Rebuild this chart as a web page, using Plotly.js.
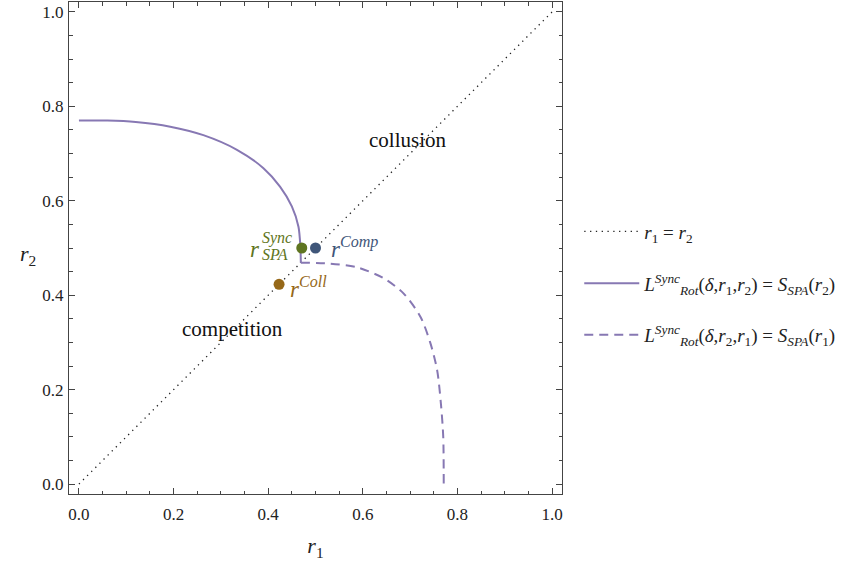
<!DOCTYPE html>
<html>
<head>
<meta charset="utf-8">
<script src="https://cdn.plot.ly/plotly-3.0.1.min.js"></script>
<style>html,body{margin:0;padding:0;background:#fff;}</style>
</head>
<body>
<div id="chart" style="width:848px;height:570px;"></div>
<script>
// ---- data ----
const diagR1 = [0, 1];
const diagR2 = [0, 1];

const solidR1 = [0, 0.06, 0.12, 0.193, 0.263, 0.334, 0.390, 0.425, 0.450, 0.464, 0.468, 0.469];
const solidR2 = [0.770, 0.770, 0.767, 0.757, 0.739, 0.708, 0.669, 0.630, 0.588, 0.545, 0.503, 0.469];

const dashedR1 = [0.469, 0.531, 0.588, 0.644, 0.686, 0.722, 0.743, 0.757, 0.765, 0.770, 0.771];
const dashedR2 = [0.469, 0.467, 0.459, 0.436, 0.404, 0.354, 0.298, 0.242, 0.171, 0.100, 0.0];

const pointNames = ["Sync SPA", "Comp", "Coll"];
const pointR1 = [0.471, 0.500, 0.423];
const pointR2 = [0.500, 0.500, 0.423];

const tickVals = [0, 0.2, 0.4, 0.6, 0.8, 1.0];
const tickLabels = ["0.0", "0.2", "0.4", "0.6", "0.8", "1.0"];

const legendNames = [
  "<i>r</i><sub>1</sub> = <i>r</i><sub>2</sub>",
  "<i>L</i><sup><i>Sync</i></sup><sub><i>Rot</i></sub>(<i>δ</i>,<i>r</i><sub>1</sub>,<i>r</i><sub>2</sub>) = <i>S</i><sub><i>SPA</i></sub>(<i>r</i><sub>2</sub>)",
  "<i>L</i><sup><i>Sync</i></sup><sub><i>Rot</i></sub>(<i>δ</i>,<i>r</i><sub>2</sub>,<i>r</i><sub>1</sub>) = <i>S</i><sub><i>SPA</i></sub>(<i>r</i><sub>1</sub>)"
];

// ---- styles ----
const purple = "#8778B3";
const blueD = "#3F5679";
const greenD = "#5F7521";
const orangeD = "#966818";
const frame = "#444";
const serif = "Liberation Serif";

const traces = [
  {x: diagR1, y: diagR2, mode: "lines", name: legendNames[0], legendgroup: "a",
   line: {color: "#222", width: 1.3, dash: "1.3px,4.5px"}},
  {x: solidR1, y: solidR2, mode: "lines", name: legendNames[1], legendgroup: "b",
   line: {color: purple, width: 2, shape: "spline", smoothing: 0.8}},
  {x: dashedR1, y: dashedR2, mode: "lines", name: legendNames[2], legendgroup: "c",
   line: {color: purple, width: 2, dash: "9px,6px", shape: "spline", smoothing: 0.8}},
  {x: [pointR1[0]], y: [pointR2[0]], mode: "markers", showlegend: false, name: pointNames[0],
   marker: {color: greenD, size: 11}},
  {x: [pointR1[1]], y: [pointR2[1]], mode: "markers", showlegend: false, name: pointNames[1],
   marker: {color: blueD, size: 11}},
  {x: [pointR1[2]], y: [pointR2[2]], mode: "markers", showlegend: false, name: pointNames[2],
   marker: {color: orangeD, size: 11}}
];

const axisBase = {
  range: [-0.021, 1.021],
  tickvals: tickVals, ticktext: tickLabels,
  ticks: "inside", ticklen: 6, tickwidth: 1, tickcolor: frame,
  showline: true, linecolor: frame, linewidth: 1, mirror: "ticks",
  showgrid: false, zeroline: false,
  minor: {ticks: "inside", ticklen: 3.5, dtick: 0.05, tick0: 0, tickcolor: frame, showgrid: false},
  tickfont: {family: serif, size: 17, color: "#222"}
};

const layout = {
  width: 848, height: 570,
  margin: {l: 69, r: 286, t: 2, b: 76},
  paper_bgcolor: "#fff", plot_bgcolor: "#fff",
  font: {family: serif, color: "#222"},
  xaxis: Object.assign({}, axisBase, {
    ticklabelstandoff: 5,
    title: {text: "<i>r</i><sub>1</sub>", font: {family: serif, size: 22, color: "#222"}, standoff: 14}
  }),
  yaxis: Object.assign({}, axisBase, {ticklabelstandoff: 1, title: {text: ""}}),
  showlegend: true,
  legend: {
    x: 1.035, xanchor: "left", y: 0.572, yanchor: "top",
    font: {family: serif, size: 19, color: "#222"},
    tracegroupgap: 24, itemwidth: 55, bgcolor: "rgba(0,0,0,0)"
  },
  annotations: [
    {xref: "paper", yref: "paper", x: -0.104, y: 0.486, showarrow: false,
     text: "<i>r</i><sub>2</sub>", font: {family: serif, size: 22, color: "#222"}},
    {xref: "x", yref: "y", x: 0.694, y: 0.729, showarrow: false,
     text: "collusion", font: {family: serif, size: 21, color: "#111"}},
    {xref: "x", yref: "y", x: 0.324, y: 0.328, showarrow: false,
     text: "competition", font: {family: serif, size: 21, color: "#111"}},
    {xref: "x", yref: "y", x: pointR1[1], y: pointR2[1], xanchor: "left", xshift: 13, yshift: 1, showarrow: false,
     text: "<i>r</i><sup><i>Comp</i></sup>", font: {family: serif, size: 23, color: blueD}},
    {xref: "x", yref: "y", x: pointR1[2], y: pointR2[2], xanchor: "left", xshift: 9, yshift: -3, showarrow: false,
     text: "<i>r</i><sup><i>Coll</i></sup>", font: {family: serif, size: 23, color: orangeD}},
    {xref: "x", yref: "y", x: pointR1[0], y: pointR2[0], xanchor: "right", xshift: -40, yshift: -1, showarrow: false,
     text: "<i>r</i>", font: {family: serif, size: 23, color: greenD}},
    {xref: "x", yref: "y", x: pointR1[0], y: pointR2[0], xanchor: "right", xshift: -8, yshift: 10, showarrow: false,
     text: "<i>Sync</i>", font: {family: serif, size: 16, color: greenD}},
    {xref: "x", yref: "y", x: pointR1[0], y: pointR2[0], xanchor: "right", xshift: -12, yshift: -6, showarrow: false,
     text: "<i>SPA</i>", font: {family: serif, size: 16, color: greenD}}
  ]
};

Plotly.newPlot("chart", traces, layout, {displayModeBar: false, staticPlot: true});
</script>
</body>
</html>
